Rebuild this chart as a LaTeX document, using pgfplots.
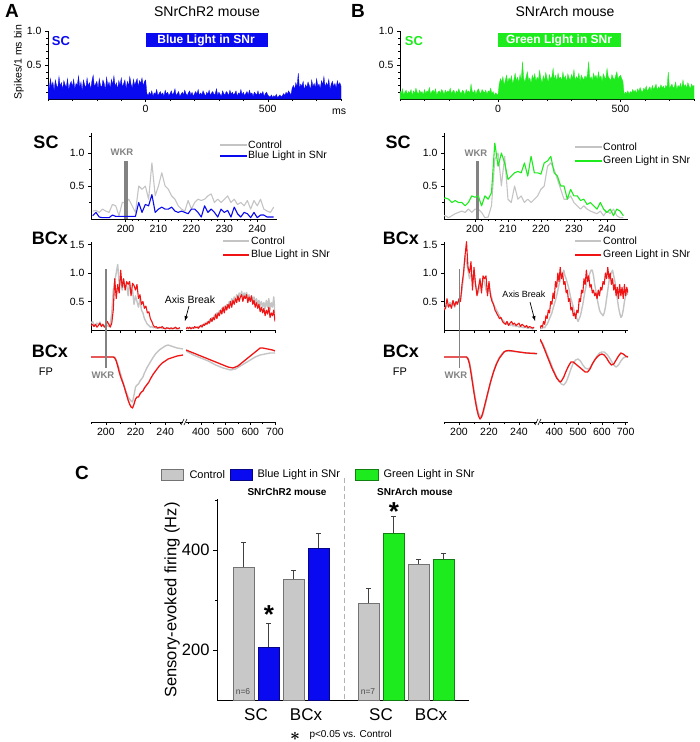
\documentclass[border=0pt]{standalone}
\usepackage{fontspec}
\setmainfont{Liberation Sans}
\usepackage{pgfplots}
\pgfplotsset{compat=1.18}

\definecolor{cblue}{HTML}{0A0AF0}
\definecolor{cgreen}{HTML}{1EEB1E}
\definecolor{cred}{HTML}{F01414}
\definecolor{cgray}{HTML}{C4C4C4}
\definecolor{wkr}{HTML}{828282}
\definecolor{bargray}{HTML}{C8C8C8}

\newcommand\fs[1]{\fontsize{#1}{#1}\selectfont}

\pgfplotsset{
  base/.style={scale only axis, anchor=south west,
    axis x line*=bottom, axis y line*=left,
    tick align=outside, major tick length=3pt, minor tick length=2pt,
    tick style={black, line width=0.5pt},
    axis line style={line width=0.6pt},
    ticklabel style={font=\fs{10.5}},
    /pgf/number format/assume math mode=true},
  onedec/.style={yticklabel style={/pgf/number format/fixed,
    /pgf/number format/fixed zerofill, /pgf/number format/precision=1}},
  tr/.style={line width=1.1pt, line join=round},
}

\begin{document}
\begin{tikzpicture}[x=1pt,y=1pt]
\path[use as bounding box] (0,0) rectangle (700,-742);

%% ---------------- top histograms ----------------
\begin{axis}[base, onedec, at={(48pt,-99pt)}, width=293pt, height=68pt,
  xmin=-400, xmax=800, ymin=0, ymax=1,
  xtick={0,500}, minor xtick={-400,-300,...,800},
  ytick={0.5,1}, minor ytick={0.1,0.2,...,0.9}]
\fill[cblue] (axis cs:0,0.765) rectangle (axis cs:500,0.97);
\addplot[draw=cblue, fill=cblue, line width=0.3pt]
  table[row sep=\\, header=false, x expr=\coordindex*5-400, y index=0] {
0.22\\0.15\\0.30\\0.18\\0.25\\0.12\\0.28\\0.20\\0.16\\0.33\\
0.19\\0.24\\0.14\\0.27\\0.21\\0.17\\0.30\\0.13\\0.22\\0.26\\
0.18\\0.29\\0.15\\0.23\\0.20\\0.34\\0.17\\0.25\\0.12\\0.28\\
0.21\\0.16\\0.31\\0.19\\0.24\\0.14\\0.27\\0.35\\0.18\\0.22\\
0.26\\0.15\\0.30\\0.20\\0.17\\0.28\\0.23\\0.13\\0.32\\0.19\\
0.25\\0.16\\0.29\\0.21\\0.34\\0.18\\0.24\\0.14\\0.27\\0.20\\
0.31\\0.17\\0.23\\0.28\\0.15\\0.26\\0.19\\0.33\\0.22\\0.16\\
0.29\\0.20\\0.25\\0.30\\0.18\\0.27\\0.23\\0.31\\0.19\\0.26\\
0.28\\
0.08\\0.05\\0.10\\0.06\\0.12\\0.04\\0.09\\0.07\\0.14\\0.05\\
0.08\\0.11\\0.06\\0.09\\0.04\\0.13\\0.07\\0.10\\0.05\\0.08\\
0.12\\0.06\\0.09\\0.15\\0.05\\0.08\\0.11\\0.04\\0.07\\0.10\\
0.06\\0.13\\0.08\\0.05\\0.09\\0.12\\0.06\\0.10\\0.04\\0.08\\
0.11\\0.07\\0.14\\0.05\\0.09\\0.06\\0.12\\0.08\\0.04\\0.10\\
0.07\\0.13\\0.05\\0.09\\0.11\\0.06\\0.08\\0.15\\0.05\\0.10\\
0.07\\0.04\\0.12\\0.08\\0.06\\0.11\\0.09\\0.05\\0.13\\0.07\\
0.10\\0.06\\0.08\\0.12\\0.04\\0.09\\0.07\\0.14\\0.06\\0.10\\
0.05\\0.08\\0.11\\0.06\\0.13\\0.07\\0.09\\0.04\\0.10\\0.08\\
0.06\\0.12\\0.05\\0.09\\0.07\\0.11\\0.04\\0.08\\0.10\\0.06\\
0.04\\0.03\\0.06\\0.02\\0.05\\0.03\\0.07\\0.02\\0.04\\0.06\\0.03\\0.05\\
0.08\\0.05\\0.10\\0.07\\0.12\\0.09\\0.06\\0.16\\0.20\\0.14\\
0.24\\0.18\\0.38\\0.15\\0.22\\0.19\\0.26\\0.13\\0.21\\0.17\\
0.25\\0.20\\0.14\\0.28\\0.18\\0.23\\0.16\\0.30\\0.19\\0.22\\
0.15\\0.27\\0.21\\0.33\\0.17\\0.24\\0.19\\0.29\\0.14\\0.22\\
0.26\\0.18\\0.23\\0.16\\0.27\\0.20\\0.24\\0.19\\
} \closedcycle;
\end{axis}

\begin{axis}[base, onedec, at={(400pt,-99pt)}, width=294pt, height=68pt,
  xmin=-400, xmax=800, ymin=0, ymax=1,
  xtick={0,500}, minor xtick={-400,-300,...,800},
  ytick={0.5,1}, minor ytick={0.1,0.2,...,0.9}]
\fill[cgreen] (axis cs:0,0.765) rectangle (axis cs:500,0.97);
\addplot[draw=cgreen, fill=cgreen, line width=0.3pt]
  table[row sep=\\, header=false, x expr=\coordindex*5-400, y index=0] {
0.12\\0.08\\0.15\\0.06\\0.10\\0.13\\0.07\\0.11\\0.09\\0.14\\
0.05\\0.12\\0.08\\0.16\\0.10\\0.07\\0.13\\0.09\\0.11\\0.06\\
0.14\\0.08\\0.12\\0.10\\0.17\\0.07\\0.11\\0.13\\0.09\\0.15\\
0.06\\0.10\\0.12\\0.08\\0.14\\0.11\\0.07\\0.13\\0.09\\0.12\\
0.10\\0.16\\0.08\\0.11\\0.13\\0.07\\0.12\\0.09\\0.15\\0.10\\
0.08\\0.13\\0.11\\0.06\\0.14\\0.10\\0.12\\0.08\\0.22\\0.11\\
0.09\\0.13\\0.07\\0.12\\0.15\\0.10\\0.08\\0.14\\0.11\\0.09\\
0.13\\0.07\\0.12\\0.10\\0.16\\0.08\\0.11\\0.05\\0.09\\0.07\\
0.06\\
0.22\\0.30\\0.25\\0.33\\0.20\\0.28\\0.35\\0.24\\0.31\\0.27\\
0.34\\0.22\\0.29\\0.38\\0.26\\0.32\\0.24\\0.36\\0.28\\0.55\\
0.30\\0.25\\0.33\\0.40\\0.27\\0.31\\0.23\\0.35\\0.29\\0.37\\
0.26\\0.32\\0.28\\0.42\\0.30\\0.24\\0.34\\0.27\\0.39\\0.31\\
0.25\\0.36\\0.29\\0.33\\0.45\\0.28\\0.35\\0.26\\0.38\\0.30\\
0.32\\0.27\\0.40\\0.29\\0.34\\0.25\\0.37\\0.31\\0.28\\0.36\\
0.30\\0.43\\0.27\\0.33\\0.29\\0.38\\0.26\\0.35\\0.31\\0.28\\
0.34\\0.30\\0.36\\0.55\\0.29\\0.33\\0.27\\0.38\\0.31\\0.35\\
0.28\\0.40\\0.30\\0.34\\0.26\\0.37\\0.32\\0.29\\0.45\\0.33\\
0.30\\0.27\\0.36\\0.31\\0.28\\0.34\\0.40\\0.29\\0.33\\0.35\\
0.30\\0.26\\
0.06\\0.10\\0.08\\0.12\\0.07\\0.11\\0.09\\0.14\\0.10\\0.13\\
0.08\\0.15\\0.11\\0.17\\0.12\\0.10\\0.16\\0.13\\0.19\\0.11\\
0.15\\0.18\\0.12\\0.20\\0.14\\0.17\\0.22\\0.13\\0.18\\0.15\\
0.21\\0.16\\0.19\\0.14\\0.20\\0.17\\0.40\\0.15\\0.19\\0.22\\
0.16\\0.18\\0.25\\0.14\\0.20\\0.17\\0.23\\0.15\\0.28\\0.18\\
0.21\\0.16\\0.24\\0.19\\0.15\\0.22\\0.18\\0.20\\
} \closedcycle;
\end{axis}

%% ---------------- SC PSTHs ----------------
\begin{axis}[base, onedec, at={(91pt,-219pt)}, width=186pt, height=85.8pt,
  xmin=189.5, xmax=246, ymin=0, ymax=1.3,
  xtick={200,210,...,240}, minor x tick num=4,
  ytick={0.5,1}, minor ytick={0.25,0.75,1.25}]
\addplot[tr, cgray] table[row sep=\\, header=false, x expr=\coordindex+190, y index=0] {
0.12\\0.13\\0.10\\0.15\\0.12\\0.10\\0.22\\0.20\\0.05\\0.25\\
0.25\\0.30\\0.20\\0.10\\0.50\\0.45\\0.50\\0.30\\0.85\\0.35\\
0.50\\0.70\\0.50\\0.45\\0.35\\0.30\\0.20\\0.15\\0.12\\0.28\\
0.15\\0.25\\0.30\\0.28\\0.30\\0.35\\0.38\\0.25\\0.30\\0.25\\
0.30\\0.35\\0.25\\0.30\\0.22\\0.25\\0.20\\0.28\\0.15\\0.28\\
0.20\\0.30\\0.15\\0.12\\0.10\\0.18\\
};
\fill[wkr] (axis cs:199.6,0) rectangle (axis cs:200.6,0.88);
\addplot[tr, cblue] table[row sep=\\, header=false, x expr=\coordindex+190, y index=0] {
0.05\\0.10\\0.03\\0.02\\0.02\\0.02\\0.06\\0.04\\0.04\\0.04\\
0.04\\0.04\\0.04\\0.04\\0.25\\0.10\\0.22\\0.20\\0.37\\0.10\\
0.15\\0.18\\0.15\\0.15\\0.18\\0.12\\0.10\\0.12\\0.10\\0.08\\
0.15\\0.15\\0.10\\0.03\\0.20\\0.10\\0.15\\0.10\\0.03\\0.15\\
0.10\\0.13\\0.03\\0.18\\0.08\\0.03\\0.10\\0.08\\0.02\\0.10\\
0.02\\0.06\\0.06\\0.03\\0.03\\0.03\\
};
\end{axis}

\begin{axis}[base, onedec, at={(444pt,-219pt)}, width=184pt, height=85.8pt,
  xmin=190.6, xmax=246.4, ymin=0, ymax=1.3,
  xtick={200,210,...,240}, minor x tick num=4,
  ytick={0.5,1}, minor ytick={0.25,0.75,1.25}]
\addplot[tr, cgray] table[row sep=\\, header=false, x expr=\coordindex+190, y index=0] {
0.05\\0.05\\0.02\\0.05\\0.08\\0.10\\0.12\\0.10\\0.15\\0.10\\
0.15\\0.15\\0.10\\0.02\\0.03\\0.20\\0.90\\1.00\\0.50\\0.95\\
0.30\\0.25\\0.50\\0.30\\0.35\\0.25\\0.30\\0.25\\0.30\\0.35\\
0.45\\0.50\\0.80\\0.85\\0.75\\0.60\\0.45\\0.30\\0.30\\0.35\\
0.25\\0.20\\0.15\\0.20\\0.15\\0.12\\0.10\\0.08\\0.12\\0.05\\
0.12\\0.08\\0.15\\0.05\\0.02\\0.02\\
};
\fill[wkr] (axis cs:200.3,0) rectangle (axis cs:201.3,0.88);
\addplot[tr, cgreen] table[row sep=\\, header=false, x expr=\coordindex+190, y index=0] {
0.30\\0.32\\0.30\\0.25\\0.28\\0.25\\0.25\\0.20\\0.25\\0.35\\
0.33\\0.35\\0.20\\0.35\\0.30\\0.40\\1.15\\0.80\\1.00\\0.85\\
0.60\\0.65\\0.70\\0.72\\0.70\\0.85\\0.65\\0.95\\0.70\\0.70\\
0.68\\0.85\\0.88\\0.95\\0.70\\0.65\\0.50\\0.50\\0.30\\0.45\\
0.35\\0.35\\0.28\\0.30\\0.22\\0.25\\0.20\\0.15\\0.25\\0.15\\
0.10\\0.15\\0.05\\0.15\\0.12\\0.05\\
};
\end{axis}

%% ---------------- BCx PSTHs (broken x axis) ----------------
\begin{axis}[base, onedec, at={(91pt,-330pt)}, width=92pt, height=88.35pt,
  xmin=190, xmax=252, ymin=0, ymax=1.55,
  xtick={190,200,...,250}, xticklabels={}, ytick={0.5,1,1.5}]
\addplot[tr, cgray, line width=1.4pt] table[row sep=\\, header=false, x expr=\coordindex+190, y index=0] {
0.12\\0.15\\0.10\\0.08\\0.12\\0.10\\0.14\\0.08\\0.10\\0.06\\
0.10\\0.08\\0.06\\0.10\\0.30\\0.70\\0.85\\1.00\\1.15\\0.80\\
0.90\\0.70\\0.85\\0.75\\0.80\\0.60\\0.85\\0.65\\0.70\\0.45\\
0.60\\0.50\\0.40\\0.55\\0.35\\0.30\\0.20\\0.15\\0.10\\0.08\\
0.05\\0.06\\0.04\\0.05\\0.03\\0.04\\0.03\\0.05\\0.02\\0.04\\
0.03\\0.02\\0.04\\0.03\\0.02\\0.03\\0.04\\0.02\\0.03\\0.02\\
0.03\\
};
\addplot[tr, cred] table[row sep=\\, header=false, x expr=\coordindex+190, y index=0] {
0.08\\0.10\\0.06\\0.10\\0.05\\0.08\\0.12\\0.06\\0.10\\0.05\\
0.08\\0.15\\0.10\\0.05\\0.12\\0.35\\0.90\\0.55\\0.80\\0.65\\
1.05\\0.75\\0.90\\0.70\\0.85\\0.80\\0.85\\0.60\\0.82\\0.78\\
0.70\\0.80\\0.55\\0.62\\0.45\\0.50\\0.38\\0.42\\0.30\\0.32\\
0.20\\0.15\\0.08\\0.05\\0.06\\0.03\\0.05\\0.04\\0.06\\0.03\\
0.02\\0.04\\0.03\\0.02\\0.04\\0.02\\0.03\\0.05\\0.02\\0.03\\
0.04\\
};
\end{axis}
\begin{axis}[base, at={(186pt,-330pt)}, width=89pt, height=88.35pt,
  xmin=340, xmax=700, ymin=0, ymax=1.55, hide y axis,
  xtick={400,500,600,700}, xticklabels={}]
\addplot[tr, cgray, line width=1.4pt] table[row sep=\\, header=false, x expr=\coordindex*5+340, y index=0] {
0.03\\0.05\\0.02\\0.04\\0.03\\0.05\\0.04\\0.03\\0.05\\0.04\\
0.06\\0.05\\0.07\\0.09\\0.08\\0.12\\0.10\\0.14\\0.12\\0.18\\
0.15\\0.22\\0.18\\0.26\\0.22\\0.30\\0.25\\0.34\\0.30\\0.38\\
0.33\\0.42\\0.36\\0.45\\0.40\\0.50\\0.44\\0.55\\0.48\\0.58\\
0.52\\0.62\\0.55\\0.65\\0.58\\0.68\\0.56\\0.65\\0.60\\0.66\\
0.55\\0.62\\0.52\\0.60\\0.50\\0.58\\0.48\\0.55\\0.45\\0.52\\
0.42\\0.50\\0.40\\0.48\\0.38\\0.52\\0.40\\0.55\\0.35\\0.48\\
0.40\\0.58\\0.30\\
};
\addplot[tr, cred] table[row sep=\\, header=false, x expr=\coordindex*5+340, y index=0] {
0.02\\0.04\\0.03\\0.05\\0.02\\0.04\\0.03\\0.06\\0.04\\0.05\\
0.03\\0.06\\0.08\\0.05\\0.10\\0.08\\0.12\\0.10\\0.15\\0.12\\
0.20\\0.15\\0.22\\0.18\\0.28\\0.20\\0.30\\0.25\\0.35\\0.28\\
0.40\\0.30\\0.42\\0.35\\0.45\\0.38\\0.50\\0.40\\0.52\\0.45\\
0.55\\0.48\\0.60\\0.50\\0.58\\0.62\\0.50\\0.60\\0.55\\0.62\\
0.48\\0.58\\0.50\\0.60\\0.45\\0.52\\0.40\\0.48\\0.38\\0.45\\
0.32\\0.40\\0.30\\0.38\\0.25\\0.35\\0.28\\0.40\\0.22\\0.30\\
0.25\\0.35\\0.15\\
};
\end{axis}

\begin{axis}[base, onedec, at={(444pt,-330pt)}, width=93pt, height=88.35pt,
  xmin=190, xmax=252, ymin=0, ymax=1.55,
  xtick={190,200,...,250}, xticklabels={}, ytick={0.5,1,1.5}]
\addplot[tr, cgray, line width=1.4pt] table[row sep=\\, header=false, x expr=\coordindex+190, y index=0] {
0.38\\0.40\\0.42\\0.45\\0.48\\0.45\\0.50\\0.40\\0.45\\0.50\\
0.48\\0.55\\0.70\\0.95\\1.30\\1.20\\1.05\\0.90\\1.00\\0.85\\
1.00\\0.80\\0.70\\0.65\\0.85\\0.75\\0.90\\0.85\\0.70\\0.65\\
0.75\\0.65\\0.55\\0.45\\0.40\\0.35\\0.30\\0.25\\0.20\\0.18\\
0.15\\0.12\\0.10\\0.12\\0.08\\0.10\\0.07\\0.08\\0.06\\0.07\\
0.05\\0.06\\0.05\\0.04\\0.05\\0.04\\0.03\\0.04\\0.03\\0.02\\
0.03\\
};
\addplot[tr, cred] table[row sep=\\, header=false, x expr=\coordindex+190, y index=0] {
0.35\\0.38\\0.55\\0.40\\0.45\\0.38\\0.52\\0.42\\0.50\\0.45\\
0.55\\0.50\\0.80\\1.00\\1.30\\1.55\\1.10\\1.00\\1.20\\0.70\\
1.10\\0.80\\0.60\\0.75\\0.90\\0.65\\0.95\\0.90\\0.95\\0.60\\
0.85\\0.60\\0.50\\0.45\\0.35\\0.30\\0.25\\0.20\\0.22\\0.15\\
0.12\\0.10\\0.15\\0.08\\0.12\\0.15\\0.10\\0.12\\0.08\\0.10\\
0.12\\0.06\\0.10\\0.08\\0.05\\0.08\\0.04\\0.06\\0.05\\0.03\\
0.05\\
};
\end{axis}
\begin{axis}[base, at={(540pt,-330pt)}, width=88pt, height=88.35pt,
  xmin=340, xmax=710, ymin=0, ymax=1.55, hide y axis,
  xtick={400,500,600,700}, xticklabels={}]
\addplot[tr, cgray, line width=1.4pt] table[row sep=\\, header=false, x expr=\coordindex*5+340, y index=0] {
0.02\\0.03\\0.03\\0.05\\0.04\\0.08\\0.10\\0.15\\0.20\\0.25\\
0.30\\0.38\\0.45\\0.52\\0.60\\0.70\\0.80\\0.88\\0.95\\1.00\\
1.05\\0.95\\0.90\\0.82\\0.75\\0.65\\0.55\\0.48\\0.40\\0.32\\
0.25\\0.20\\0.15\\0.20\\0.25\\0.35\\0.45\\0.58\\0.70\\0.80\\
0.90\\0.95\\1.00\\1.05\\1.05\\0.95\\0.80\\0.68\\0.55\\0.45\\
0.35\\0.30\\0.28\\0.25\\0.30\\0.40\\0.55\\0.70\\0.85\\0.95\\
1.00\\1.05\\0.95\\0.85\\0.70\\0.55\\0.40\\0.30\\0.22\\0.25\\
0.35\\0.50\\0.60\\0.65\\0.62\\
};
\addplot[tr, cred] table[row sep=\\, header=false, x expr=\coordindex*5+340, y index=0] {
0.03\\0.08\\0.05\\0.15\\0.10\\0.25\\0.20\\0.35\\0.30\\0.50\\
0.45\\0.65\\0.55\\0.85\\0.75\\1.00\\0.85\\1.10\\0.90\\1.00\\
0.80\\0.85\\0.65\\0.70\\0.50\\0.55\\0.35\\0.40\\0.25\\0.30\\
0.20\\0.35\\0.30\\0.55\\0.50\\0.70\\0.65\\0.90\\0.80\\1.05\\
0.85\\0.95\\0.75\\0.80\\0.65\\0.70\\0.60\\0.65\\0.55\\0.70\\
0.60\\0.75\\0.70\\0.85\\0.80\\1.00\\0.90\\1.10\\0.90\\1.00\\
0.80\\0.90\\0.70\\0.80\\0.60\\0.75\\0.55\\0.80\\0.60\\0.75\\
0.55\\0.80\\0.60\\0.75\\0.65\\
};
\end{axis}

%% ---------------- field potentials ----------------
\begin{axis}[base, at={(91pt,-422pt)}, width=92pt, height=85pt,
  xmin=190, xmax=252, ymin=-65, ymax=20, hide y axis,
  xtick={200,220,240}, minor xtick={190,210,230,250}]
\addplot[tr, cgray, line width=1.4pt] coordinates {
(190,0)(200,0)(206,0)(207,-3)(209,-12)(211,-22)(213,-32)(215,-40)(217,-44)
(218,-45)(219,-38)(220,-30)(221,-28)(222,-27)(223,-24)(224,-22)(225,-20)
(226,-16)(228,-10)(230,-5)(232,0)(234,4)(236,7)(238,9)(240,11)(242,12)
(244,11)(246,10)(248,9)(252,8)};
\addplot[tr, cred, line width=1.3pt] coordinates {
(190,0)(200,0)(205,0)(206,-1)(207,-4)(208,-9)(209,-15)(210,-20)(211,-24)
(212,-28)(213,-33)(214,-38)(215,-43)(216,-47)(217,-50)(218,-51)(219,-47)
(220,-42)(221,-40)(222,-40)(223,-37)(224,-35)(225,-34)(226,-31)(227,-29)
(228,-27)(229,-25)(230,-22)(232,-17)(234,-13)(236,-9)(238,-6)(240,-4)
(242,-2)(244,-1)(246,0)(248,1)(252,2)};
\end{axis}
\begin{axis}[base, at={(186pt,-422pt)}, width=89pt, height=85pt,
  xmin=340, xmax=700, ymin=-65, ymax=20, hide y axis,
  xtick={400,500,600,700}, minor xtick={350,450,550,650}]
\addplot[tr, cgray, line width=1.4pt] coordinates {
(340,6)(370,2)(400,-1)(430,-4)(460,-8)(490,-11)(520,-13)(540,-12)(560,-9)
(580,-6)(600,-3)(620,0)(640,2)(660,3)(680,4)(700,4)};
\addplot[tr, cred, line width=1.3pt] coordinates {
(340,7)(350,6)(370,4)(400,1)(430,-2)(460,-5)(490,-8)(510,-10)(530,-11)
(550,-9)(570,-5)(590,-1)(610,3)(630,7)(640,9)(650,9)(670,8)(690,7)(700,6)};
\end{axis}

\begin{axis}[base, at={(444pt,-422pt)}, width=93pt, height=85pt,
  xmin=190, xmax=252, ymin=-65, ymax=20, hide y axis,
  xtick={200,220,240}, minor xtick={190,210,230,250}]
\addplot[tr, cgray, line width=1.4pt] coordinates {
(190,0)(205,0)(206,-1)(207,-5)(208,-13)(209,-23)(210,-33)(211,-42)(212,-50)
(213,-56)(214,-59)(215,-60)(216,-57)(217,-51)(218,-45)(219,-38)(220,-32)
(221,-26)(222,-20)(223,-15)(224,-10)(225,-6)(226,-3)(227,0)(228,2)(229,4)
(230,5)(232,6)(236,5.5)(240,5)(245,4)(252,3)};
\addplot[tr, cred, line width=1.3pt] coordinates {
(190,0)(205,0)(206,-2)(207,-7)(208,-16)(209,-26)(210,-36)(211,-45)(212,-53)
(213,-59)(214,-62)(215,-60)(216,-55)(217,-49)(218,-43)(219,-37)(220,-31)
(221,-25)(222,-20)(223,-15)(224,-11)(225,-7)(226,-4)(227,-1)(228,1)(229,3)
(230,5)(231,6)(233,6.5)(236,6)(240,5)(245,4)(252,3.5)};
\end{axis}
\begin{axis}[base, at={(540pt,-422pt)}, width=88pt, height=85pt,
  xmin=340, xmax=710, ymin=-65, ymax=20, hide y axis,
  xtick={400,500,600,700}, minor xtick={350,450,550,650}]
\addplot[tr, cgray, line width=1.4pt] coordinates {
(340,17)(350,14)(360,9)(370,3)(380,-3)(390,-9)(400,-15)(410,-20)(420,-24)
(430,-27)(440,-28)(450,-25)(460,-19)(470,-12)(480,-6)(490,-3)(500,-2)
(510,-4)(520,-8)(530,-11)(540,-12)(550,-11)(560,-7)(570,-3)(580,1)(590,4)
(600,5)(610,5)(620,3)(630,0)(640,-4)(650,-8)(660,-10)(670,-8)(680,-4)
(690,-1)(700,0)(710,0)};
\addplot[tr, cred, line width=1.3pt] coordinates {
(340,18)(350,13)(360,7)(370,1)(380,-5)(390,-11)(400,-16)(410,-21)(420,-24)
(425,-25)(430,-24)(440,-20)(450,-14)(460,-9)(470,-5)(480,-5)(490,-7)
(500,-9)(510,-11)(520,-13)(530,-15)(540,-15)(550,-12)(560,-7)(570,-3)
(580,0)(590,2)(600,3)(610,2)(620,-1)(630,-5)(640,-8)(650,-7)(660,-3)
(670,1)(680,4)(690,3)(700,1)(710,0)};
\end{axis}

%% ---------------- panel C bar chart ----------------
\begin{axis}[base, at={(217pt,-700pt)}, width=252pt, height=201pt,
  xmin=-0.06, xmax=10.02, ymin=100, ymax=502,
  ytick={200,400}, minor ytick={300,500}, major tick length=4pt,
  xtick={1.5,3.5,6.5,8.5}, xticklabels={SC,BCx,SC,BCx},
  x tick style={draw=none},
  xticklabel style={font=\fs{17}, yshift=-1pt},
  yticklabel style={font=\fs{16.5}},
  axis line style={line width=0.8pt},
  error bars/y dir=plus, error bars/y explicit,
  error bars/error bar style={line width=0.7pt, color=black!75},
  error bars/error mark options={rotate=90, mark size=2.5pt, line width=0.7pt, color=black!75}]
\addplot[ybar, bar width=21pt, bar shift=0pt, fill=bargray, draw=black!55, line width=0.6pt]
  coordinates {(1,366) +- (0,50) (3,342) +- (0,18) (6,294) +- (0,30) (8,372) +- (0,10)};
\addplot[ybar, bar width=21pt, bar shift=0pt, fill=cblue, draw=cblue!55!black, line width=0.6pt]
  coordinates {(2,206) +- (0,48) (4,404) +- (0,30)};
\addplot[ybar, bar width=21pt, bar shift=0pt, fill=cgreen, draw=cgreen!55!black, line width=0.6pt]
  coordinates {(7,434) +- (0,34) (9,382) +- (0,12)};
\end{axis}

%% ---------------- annotations ----------------
\node[font=\fs{19}\bfseries] at (12,-11) {A};
\node[font=\fs{19}\bfseries] at (358,-11) {B};
\node[font=\fs{19}\bfseries] at (82,-473) {C};
\node[font=\fs{14}] at (207,-11) {SNrChR2 mouse};
\node[font=\fs{14}] at (565,-11) {SNrArch mouse};
\node[rotate=90, font=\fs{10.5}] at (19,-62) {Spikes/1 ms bin};
\node[font=\fs{13}\bfseries, text=cblue] at (61,-41) {SC};
\node[font=\fs{13}\bfseries, text=cgreen] at (414,-41) {SC};
\node[font=\fs{12}\bfseries, text=white] at (206,-40) {Blue Light in SNr};
\node[font=\fs{12}\bfseries, text=white] at (559,-40) {Green Light in SNr};
\node[font=\fs{10.5}] at (339,-112) {ms};

\node[font=\fs{18}\bfseries] at (46,-142) {SC};
\node[font=\fs{18}\bfseries] at (398,-142) {SC};
\node[font=\fs{18}\bfseries] at (50,-238) {BCx};
\node[font=\fs{18}\bfseries] at (401,-238) {BCx};
\node[font=\fs{18}\bfseries] at (50,-351) {BCx};
\node[font=\fs{18}\bfseries] at (401,-351) {BCx};
\node[font=\fs{11}] at (46,-372) {FP};
\node[font=\fs{11}] at (400,-372) {FP};

\node[font=\fs{9.5}\bfseries, text=wkr] at (122,-152) {WKR};
\node[font=\fs{9.5}\bfseries, text=wkr] at (476,-153) {WKR};
\node[font=\fs{9.5}\bfseries, text=wkr] at (103,-375) {WKR};
\node[font=\fs{9.5}\bfseries, text=wkr] at (456,-375) {WKR};
\draw[wkr, line width=1.5pt] (106,-269) -- (106,-368);
\draw[wkr, line width=1.5pt] (459.5,-269) -- (459.5,-368);

% legends
\draw[cgray, line width=1.5pt] (220,-145) -- (247,-145);
\node[anchor=west, font=\fs{10.5}, inner sep=1pt] at (247,-145) {Control};
\draw[cblue, line width=1.5pt] (220,-156) -- (247,-156);
\node[anchor=west, font=\fs{10.5}, inner sep=1pt] at (247,-156) {Blue Light in SNr};
\draw[cgray, line width=1.5pt] (575,-147) -- (602,-147);
\node[anchor=west, font=\fs{10.5}, inner sep=1pt] at (602,-147) {Control};
\draw[cgreen, line width=1.5pt] (575,-161) -- (602,-161);
\node[anchor=west, font=\fs{10.5}, inner sep=1pt] at (602,-161) {Green Light in SNr};
\draw[cgray, line width=2.4pt] (223,-241) -- (249,-241);
\node[anchor=west, font=\fs{10.5}, inner sep=1pt] at (250,-241) {Control};
\draw[cred, line width=1.6pt] (223,-255) -- (249,-255);
\node[anchor=west, font=\fs{10.5}, inner sep=1pt] at (250,-255) {Blue Light in SNr};
\draw[cgray, line width=2.4pt] (575,-241) -- (601,-241);
\node[anchor=west, font=\fs{10.5}, inner sep=1pt] at (602,-241) {Control};
\draw[cred, line width=1.6pt] (575,-255) -- (601,-255);
\node[anchor=west, font=\fs{10.5}, inner sep=1pt] at (602,-255) {Green Light in SNr};

% axis breaks
\node[font=\fs{10.5}] at (190,-300) {Axis Break};
\draw[-latex, line width=0.7pt] (189,-306) -- (185,-321);
\node[font=\fs{9}] at (524,-294) {Axis Break};
\draw[-latex, line width=0.7pt] (530,-302) -- (535,-321);
\foreach \bx in {182.5,185.5} \draw[line width=0.6pt] (\bx-1.5,-425) -- (\bx+1.5,-419);
\foreach \bx in {536.5,539.5} \draw[line width=0.6pt] (\bx-1.5,-425) -- (\bx+1.5,-419);

% panel C extras
\filldraw[fill=bargray, draw=black!55] (161,-469) rectangle (183,-480);
\node[anchor=west, font=\fs{11}] at (186,-474.5) {Control};
\filldraw[fill=cblue, draw=cblue!55!black] (230,-469) rectangle (252,-480);
\node[anchor=west, font=\fs{11}] at (254,-474.5) {Blue Light in SNr};
\filldraw[fill=cgreen, draw=cgreen!55!black] (355,-469) rectangle (378,-480);
\node[anchor=west, font=\fs{11}] at (380,-474.5) {Green Light in SNr};
\draw[black!30, dashed, dash pattern=on 5pt off 3pt, line width=0.8pt] (344,-478) -- (344,-700);
\node[font=\fs{10}\bfseries] at (287,-492) {SNrChR2 mouse};
\node[font=\fs{10}\bfseries] at (415,-492) {SNrArch mouse};
\node[rotate=90, font=\fs{16.5}] at (172,-600) {Sensory-evoked firing (Hz)};
\node[font=\fs{8.5}, text=black!70] at (243,-692) {n=6};
\node[font=\fs{8.5}, text=black!70] at (368,-692) {n=7};
\node[font=\fs{26}\bfseries, anchor=north, inner sep=0pt] at (269,-605) {*};
\node[font=\fs{26}\bfseries, anchor=north, inner sep=0pt] at (394,-502) {*};
\node[font=\fs{19}\boldmath, inner sep=0pt] at (295,-736.5) {$\ast$};
\node[anchor=west, font=\fs{10}] at (306,-735) {p<0.05 vs. Control};
\end{tikzpicture}
\end{document}
